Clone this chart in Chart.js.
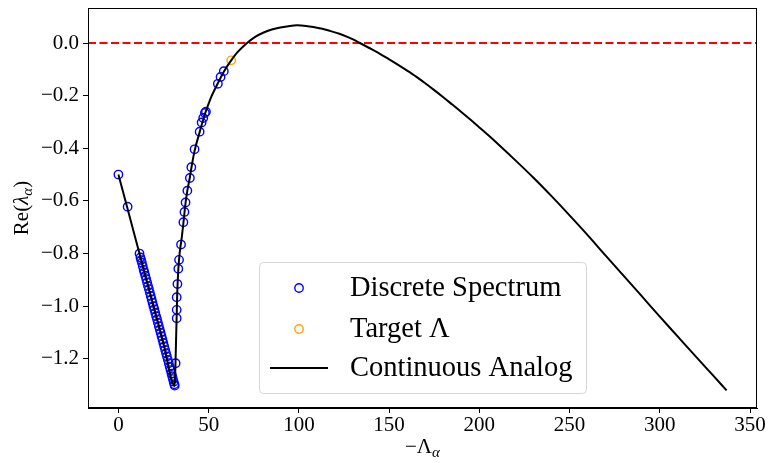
<!DOCTYPE html>
<html>
<head>
<title>Spectrum</title>
<script src="https://cdn.jsdelivr.net/npm/chart.js@4.4.0/dist/chart.umd.min.js"></script>
<style>
  body { margin: 0; background: #fff; }
  #wrap { width: 768px; height: 463px; }
</style>
</head>
<body>
<div id="wrap"><canvas id="canvas"></canvas></div>
<script>
// discrete eigenvalues
const spectrumX = [0, 5.1,
  11.7, 12.2, 12.6, 13.0, 13.5, 14.0, 14.4, 14.9, 15.4, 15.9, 16.4, 16.9, 17.4, 17.9,
  18.4, 18.9, 19.4, 19.9, 20.4, 20.9, 21.4, 21.9, 22.4, 22.9, 23.4, 23.9, 24.4, 24.9,
  25.4, 25.9, 26.4, 26.9, 27.4, 27.9, 28.4, 28.9, 29.4, 29.8, 30.2, 30.6, 31.0, 31.2,
  31.7, 32.3, 32.3, 32.3, 32.7, 33.2, 33.6, 34.7, 36.0, 36.6, 37.2, 38.2, 39.6, 40.4,
  42.2, 45.0, 46.1, 47.0, 47.9, 48.5, 55.1, 56.6, 58.4];
const spectrumY = [-0.5, -0.622,
  -0.800, -0.815, -0.825, -0.835, -0.848, -0.862, -0.872, -0.884, -0.897, -0.910, -0.923, -0.935, -0.948, -0.961,
  -0.974, -0.987, -1.000, -1.012, -1.025, -1.038, -1.050, -1.063, -1.076, -1.089, -1.101, -1.114, -1.127, -1.140,
  -1.153, -1.166, -1.179, -1.191, -1.204, -1.217, -1.230, -1.243, -1.256, -1.266, -1.277, -1.287, -1.297, -1.302,
  -1.217, -1.046, -1.014, -0.966, -0.916, -0.858, -0.824, -0.766, -0.681, -0.642, -0.606, -0.561, -0.513, -0.472,
  -0.404, -0.337, -0.302, -0.285, -0.266, -0.261, -0.155, -0.129, -0.107];

const targetX = [62.5];
const targetY = [-0.066];

// continuous analog
const curveX = [0, 5, 10, 15, 20, 25, 31.2, 31.5, 31.8, 32.2, 32.6, 33.2, 34.0, 35.0, 36.0, 37.2,
  38.2, 39.6, 40.4, 42.2, 45.0, 47.9, 51, 55.1, 58.4, 62.5, 66, 71.3, 76, 80.5, 85, 89.7, 95, 99,
  104, 108, 113, 117.2, 122, 126.5, 130, 133.8, 139, 144.9, 150, 155, 160, 165, 170, 175, 180,
  185, 190, 195, 200, 205, 210, 220, 230, 240, 250, 260, 270, 280, 290, 300, 310, 320, 330, 337];
const curveY = [-0.5, -0.628, -0.757, -0.886, -1.014, -1.143, -1.303, -1.25, -1.17, -1.06, -0.95, -0.86, -0.795, -0.745, -0.685, -0.608,
  -0.561, -0.510, -0.476, -0.410, -0.339, -0.271, -0.212, -0.153, -0.109, -0.066, -0.035, 0, 0.024, 0.040, 0.051, 0.059, 0.065, 0.067,
  0.065, 0.061, 0.054, 0.046, 0.036, 0.024, 0.0135, 0, -0.019, -0.041, -0.062, -0.083, -0.105, -0.128, -0.153, -0.179, -0.206,
  -0.234, -0.262, -0.291, -0.321, -0.351, -0.382, -0.446, -0.512, -0.582, -0.655, -0.73, -0.808, -0.885, -0.962, -1.04, -1.116,
  -1.192, -1.267, -1.32];

const xTicks = [0, 50, 100, 150, 200, 250, 300, 350];
const yTicks = [-1.2, -1.0, -0.8, -0.6, -0.4, -0.2, 0.0];
const xRange = [-16.85, 353.85];
const yRange = [-1.387, 0.133];

const pts = (xs, ys) => xs.map((x, i) => ({ x: x, y: ys[i] }));
const serif = '"Liberation Serif", "Times New Roman", serif';
const minus = s => s.replace('-', '\u2212');

// draw the axes frame, axis titles and the in-plot legend
const decorations = {
  id: 'decorations',
  afterDraw(chart) {
    const ctx = chart.ctx;
    const a = chart.chartArea;
    ctx.save();
    ctx.strokeStyle = '#000';
    ctx.lineWidth = 1;
    ctx.strokeRect(a.left + 0.5, a.top + 0.5, a.right - a.left - 1, a.bottom - a.top - 1);

    // axis titles with subscripts
    const drawParts = (parts, cx, cy) => {
      let w = 0;
      parts.forEach(p => { ctx.font = p.font; p.w = ctx.measureText(p.t).width; w += p.w; });
      let x = cx - w / 2;
      ctx.textBaseline = 'alphabetic';
      ctx.textAlign = 'left';
      parts.forEach(p => { ctx.font = p.font; ctx.fillText(p.t, x, cy + (p.dy || 0)); x += p.w; });
    };
    ctx.fillStyle = '#000';
    drawParts([
      { t: '\u2212\u039b', font: '21px ' + serif },
      { t: '\u03b1', font: 'italic 15px ' + serif, dy: 4 }
    ], (a.left + a.right) / 2, 453);
    ctx.save();
    ctx.translate(28, (a.top + a.bottom) / 2);
    ctx.rotate(-Math.PI / 2);
    drawParts([
      { t: 'Re(', font: '21px ' + serif },
      { t: '\u03bb', font: 'italic 21px ' + serif },
      { t: '\u03b1', font: 'italic 15px ' + serif, dy: 4 },
      { t: ')', font: '21px ' + serif }
    ], 0, 0);
    ctx.restore();

    // legend
    ctx.beginPath();
    ctx.roundRect(259.5, 262.5, 327, 131, 4);
    ctx.fillStyle = 'rgba(255,255,255,0.8)';
    ctx.fill();
    ctx.strokeStyle = '#d6d6d6';
    ctx.stroke();
    const rows = [
      { label: chart.data.datasets[1].label, color: 'blue', y: 288, kind: 'pt' },
      { label: chart.data.datasets[2].label, color: 'orange', y: 329, kind: 'pt' },
      { label: chart.data.datasets[0].label, color: '#000', y: 368, kind: 'line' }
    ];
    ctx.font = '28.5px ' + serif;
    ctx.textBaseline = 'middle';
    rows.forEach(r => {
      ctx.strokeStyle = r.color;
      if (r.kind === 'pt') {
        ctx.lineWidth = 1.4;
        ctx.beginPath();
        ctx.arc(299, r.y, 4.2, 0, Math.PI * 2);
        ctx.stroke();
      } else {
        ctx.lineWidth = 2;
        ctx.beginPath();
        ctx.moveTo(270, r.y);
        ctx.lineTo(328, r.y);
        ctx.stroke();
      }
      ctx.fillStyle = '#000';
      ctx.fillText(r.label, 350, r.y + 1);
    });
    ctx.restore();
  }
};

window.onload = () => {
  const ctx = document.getElementById('canvas').getContext('2d');
  new Chart(ctx, {
    type: 'scatter',
    data: {
      datasets: [
        {
          label: 'Continuous Analog',
          data: pts(curveX, curveY),
          showLine: true,
          borderColor: '#000',
          borderWidth: 2,
          pointRadius: 0,
          cubicInterpolationMode: 'monotone'
        },
        {
          label: 'Discrete Spectrum',
          data: pts(spectrumX, spectrumY),
          pointStyle: 'circle',
          pointRadius: 4.2,
          pointBorderWidth: 1.4,
          borderColor: 'blue',
          backgroundColor: 'rgba(0,0,0,0)'
        },
        {
          label: 'Target \u039b',
          data: pts(targetX, targetY),
          pointRadius: 4.2,
          pointBorderWidth: 1.4,
          borderColor: 'orange',
          backgroundColor: 'rgba(0,0,0,0)'
        },
        {
          label: 'zero',
          data: pts(xRange, [0, 0]),
          showLine: true,
          borderColor: 'red',
          borderWidth: 2,
          borderDash: [8, 3.5],
          pointRadius: 0
        }
      ]
    },
    options: {
      responsive: true,
      maintainAspectRatio: false,
      animation: false,
      layout: { padding: { left: 0, right: 11, top: 8, bottom: 0 } },
      plugins: { legend: { display: false }, tooltip: { enabled: false } },
      scales: {
        x: {
          type: 'linear',
          min: xRange[0],
          max: xRange[1],
          afterBuildTicks: s => { s.ticks = xTicks.map(v => ({ value: v })); },
          afterFit: s => { s.height = 55; s.paddingLeft = 0; s.paddingRight = 0; },
          grid: { drawOnChartArea: false, drawTicks: true, tickLength: 5, color: '#000' },
          border: { display: true, color: '#000' },
          ticks: { color: '#000', padding: 0, maxRotation: 0, font: { family: serif, size: 21 },
                   callback: v => String(v) }
        },
        y: {
          type: 'linear',
          min: yRange[0],
          max: yRange[1],
          afterBuildTicks: s => { s.ticks = yTicks.map(v => ({ value: v })); },
          afterFit: s => { s.width = 88; s.paddingTop = 0; s.paddingBottom = 0; },
          grid: { drawOnChartArea: false, drawTicks: true, tickLength: 5, color: '#000' },
          border: { display: true, color: '#000' },
          ticks: { color: '#000', padding: 4, font: { family: serif, size: 21 },
                   callback: v => minus(v.toFixed(1)) }
        }
      }
    },
    plugins: [decorations]
  });
};
</script>
</body>
</html>
